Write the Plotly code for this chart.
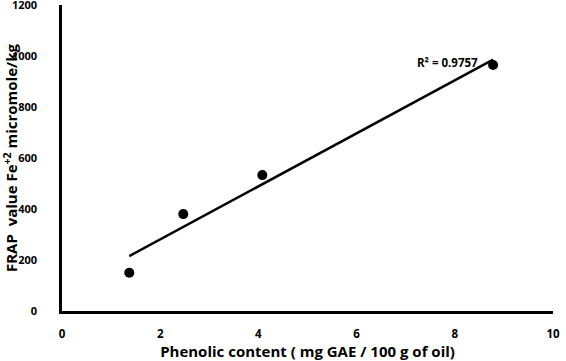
import numpy as np
import plotly.graph_objects as go

phenolic = [1.37, 2.47, 4.08, 8.78]
frap = [150, 380, 533, 965]
x_ticks = [0, 2, 4, 6, 8, 10]
y_ticks = [0, 200, 400, 600, 800, 1000, 1200]

slope, intercept = np.polyfit(phenolic, frap, 1)
xf = np.array([min(phenolic), max(phenolic)])
yf = slope * xf + intercept

font = "Open Sans"
fig = go.Figure()
fig.add_trace(go.Scatter(x=xf, y=yf, mode="lines", line=dict(color="black", width=2.5), showlegend=False))
fig.add_trace(go.Scatter(x=phenolic, y=frap, mode="markers",
                         marker=dict(color="black", size=10), showlegend=False))
fig.add_annotation(x=8.51, y=976, text="R² = 0.9757", showarrow=False, xanchor="right", yanchor="middle",
                   font=dict(family=font, size=11.5, color="black", weight="bold"))
fig.update_layout(
    width=566, height=361, margin=dict(l=62, r=13, t=5, b=50),
    plot_bgcolor="white", paper_bgcolor="white",
    font=dict(family=font, color="black"),
)
fig.update_xaxes(range=[0, 10], tickvals=x_ticks, showgrid=False, zeroline=False, automargin=False,
                 showline=True, linecolor="black", linewidth=2.5, ticks="", ticklabelstandoff=10,
                 ticklabeloverflow="allow",
                 tickfont=dict(family=font, size=11.5, weight="bold"),
                 title=dict(text="Phenolic content ( mg GAE / 100 g of oil)", standoff=0,
                            font=dict(family=font, size=15, weight="bold")))
fig.update_yaxes(range=[0, 1200], tickvals=y_ticks, showgrid=False, zeroline=False, automargin=False,
                 showline=True, linecolor="black", linewidth=2.5, ticks="", ticklabelstandoff=20,
                 ticklabeloverflow="allow",
                 tickfont=dict(family=font, size=11, weight="bold"),
                 title=dict(text="FRAP  value Fe<sup>+2</sup> micromole/kg", standoff=8,
                            font=dict(family=font, size=15, weight="bold")))
fig.write_html("out.html", config={"displayModeBar": False},
               post_script="document.body.style.margin='0';")
